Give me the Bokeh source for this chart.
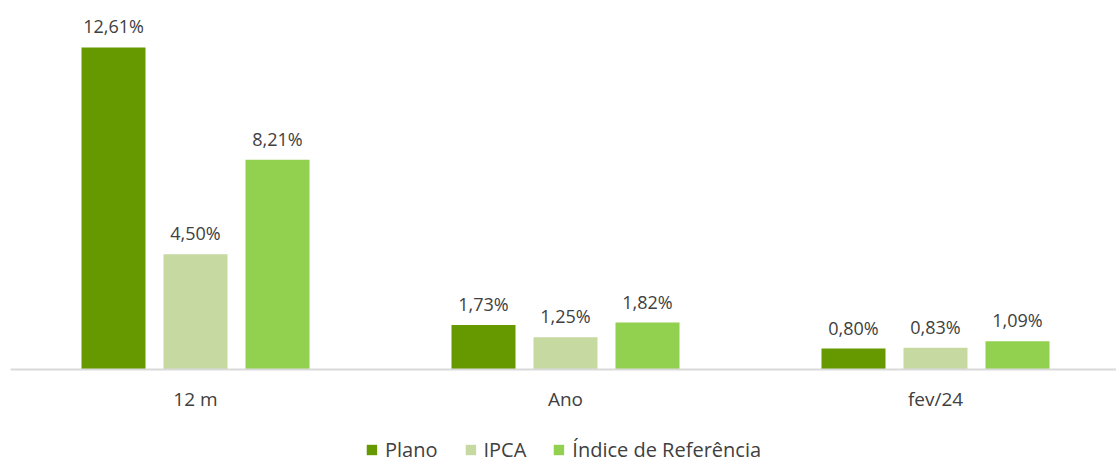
from bokeh.plotting import figure
from bokeh.models import ColumnDataSource, Range1d, FixedTicker, Legend, LegendItem, LinearAxis
from bokeh.core.properties import value
from bokeh.embed import file_html
from bokeh.resources import INLINE

categories = ["12 m", "Ano", "fev/24"]
series = ["Plano", "IPCA", "Índice de Referência"]
plano = [12.61, 1.73, 0.80]
ipca = [4.50, 1.25, 0.83]
indice = [8.21, 1.82, 1.09]
colors = ["#669900", "#C5D9A0", "#92D050"]

FONT = "Open Sans"
PX = 25.5  # pixels per percentage point

p = figure(frame_width=1106, frame_height=463, output_backend="svg", toolbar_location=None,
           x_range=Range1d(0, 1106 / 370), y_range=Range1d(-94.5 / PX, 368.5 / PX),
           min_border_left=10, min_border_right=0, min_border_top=0, min_border_bottom=0,
           x_axis_location=None, y_axis_location=None)
p.outline_line_color = None
p.grid.visible = False
p.background_fill_color = "white"
p.border_fill_color = "white"

bar_w = 64 / 370
offsets = [-82 / 370, 0, 82 / 370]
renderers = []
for vals, off, col, name in zip([plano, ipca, indice], offsets, colors, series):
    xs = [i + 0.5 + off for i in range(len(categories))]
    src = ColumnDataSource(dict(x=xs, top=vals,
                                label=[f"{v:.2f}%".replace(".", ",") for v in vals]))
    r = p.vbar(x="x", top="top", width=bar_w, bottom=0, source=src,
               fill_color=col, line_color=None)
    renderers.append((name, r))
    p.text(x="x", y="top", text="label", source=src, text_align="center",
           text_baseline="bottom", y_offset=-9, text_font=value(FONT),
           text_font_size="18px", text_color="#404040")

ax = LinearAxis(fixed_location=0)
ax.ticker = FixedTicker(ticks=[i + 0.5 for i in range(len(categories))])
ax.major_label_overrides = {i + 0.5: c for i, c in enumerate(categories)}
ax.major_tick_line_color = None
ax.minor_tick_line_color = None
ax.axis_line_color = "#D9D9D9"
ax.axis_line_width = 2
ax.major_label_text_font = FONT
ax.major_label_text_font_size = "19px"
ax.major_label_text_color = "#404040"
ax.major_label_standoff = 11
p.add_layout(ax, "below")

legend = Legend(items=[LegendItem(label=n, renderers=[r]) for n, r in renderers],
                orientation="horizontal", location="bottom_center",
                glyph_width=13, glyph_height=13, label_standoff=7, spacing=26,
                label_text_font=FONT, label_text_font_size="20px",
                label_text_color="#404040", border_line_color=None,
                background_fill_alpha=0, padding=0, margin=0)
p.add_layout(legend, "center")

open("out.html", "w").write(file_html(p, INLINE))
